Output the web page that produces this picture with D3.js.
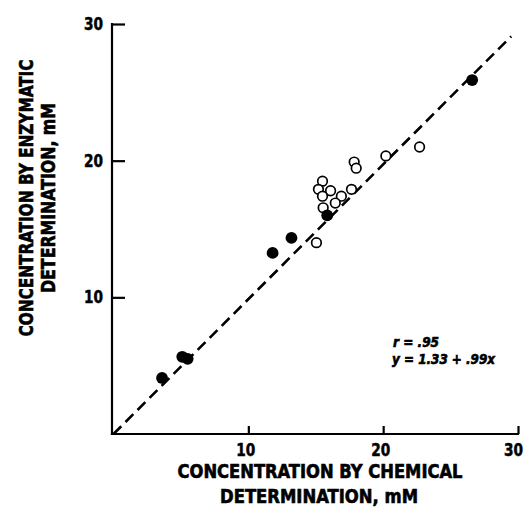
<!DOCTYPE html>
<html><head><meta charset="utf-8">
<script src="https://cdn.jsdelivr.net/npm/d3@7"></script>
<style>
html,body{margin:0;padding:0;background:#fff;}
svg{display:block;}
text{font-family:"Liberation Sans Narrow","DejaVu Sans Condensed","Roboto Condensed",sans-serif;font-weight:bold;fill:#000;}
</style></head>
<body>
<script>
// Data (chemical x, enzymatic y), mM
const filledX = [3.6, 5.1, 5.5, 11.8, 13.2, 15.85, 26.6];
const filledY = [4.1, 5.65, 5.5, 13.25, 14.35, 16.0, 25.9];
const openX = [15.5, 15.2, 16.1, 15.5, 16.9, 17.65, 16.45, 15.55, 15.05, 17.85, 18.0, 20.2, 22.7];
const openY = [18.5, 17.9, 17.8, 17.4, 17.4, 17.9, 16.9, 16.55, 14.0, 19.9, 19.45, 20.35, 21.0];
const xTicks = [10, 20, 30];
const yTicks = [10, 20, 30];
const fitLineX = [0, 29.5];
const fitLineY = [0, 29.1];
const xTitle = ["CONCENTRATION BY CHEMICAL", "DETERMINATION, mM"];
const yTitle = ["CONCENTRATION BY ENZYMATIC", "DETERMINATION, mM"];
const stats = ["r = .95", "y = 1.33 + .99x"];

const W = 525, H = 515;
const svg = d3.select("body").append("svg").attr("width", W).attr("height", H);

const x = d3.scaleLinear().domain([0, 30]).range([113.5, 518]);
const y = d3.scaleLinear().domain([0, 30]).range([434, 24]);

// axes
const xAxis = d3.axisBottom(x).tickValues(xTicks).tickSizeInner(-8).tickSizeOuter(0).tickPadding(10);
const yAxis = d3.axisLeft(y).tickValues(yTicks).tickSizeInner(-13).tickSizeOuter(0).tickPadding(9);

const gx = svg.append("g").attr("transform", `translate(0,${y(0)})`).call(xAxis);
const gy = svg.append("g").attr("transform", `translate(${x(0) - 1.5},0)`).call(yAxis);
[gx, gy].forEach(g => {
  g.select(".domain").attr("stroke", "#000").attr("stroke-width", 2.2);
  g.selectAll(".tick line").attr("stroke", "#000").attr("stroke-width", 2.2);
  g.selectAll(".tick text").attr("font-size", 17.5).attr("font-weight", "bold")
    .attr("font-family", '"Liberation Sans Narrow","DejaVu Sans Condensed",sans-serif')
    .attr("stroke", "#000").attr("stroke-width", 0.5)
    .attr("textLength", 19).attr("lengthAdjust", "spacingAndGlyphs");
});
gx.select(".domain").attr("d", `M${x(0) - 2.6},0H${x(30) + 1}`);
gy.select(".domain").attr("d", `M0,${y(0) + 1}V${y(30) - 1}`);
gx.selectAll(".tick text").attr("dx", d => d === 30 ? -5 : -3);

// dashed fit line
svg.append("line")
  .attr("x1", x(fitLineX[0])).attr("y1", y(fitLineY[0]))
  .attr("x2", x(fitLineX[1])).attr("y2", y(fitLineY[1]))
  .attr("stroke", "#000").attr("stroke-width", 2.6)
  .attr("stroke-dasharray", "11,6");

// open circles
svg.append("g").selectAll("circle").data(openX.map((v, i) => [v, openY[i]]))
  .join("circle")
  .attr("cx", d => x(d[0])).attr("cy", d => y(d[1])).attr("r", 4.8)
  .attr("fill", "#fff").attr("stroke", "#000").attr("stroke-width", 1.7);

// filled circles
svg.append("g").selectAll("circle").data(filledX.map((v, i) => [v, filledY[i]]))
  .join("circle")
  .attr("cx", d => x(d[0])).attr("cy", d => y(d[1])).attr("r", 5.9)
  .attr("fill", "#000");

const heavy = sel => sel.attr("stroke", "#000").attr("stroke-width", 0.6);

// x title
svg.append("text").attr("x", 320).attr("y", 478).attr("text-anchor", "middle").call(heavy)
  .attr("font-size", 19).attr("textLength", 285).attr("lengthAdjust", "spacingAndGlyphs").text(xTitle[0]);
svg.append("text").attr("x", 319).attr("y", 503).attr("text-anchor", "middle").call(heavy)
  .attr("font-size", 19).attr("textLength", 198).attr("lengthAdjust", "spacingAndGlyphs").text(xTitle[1]);

// y title
svg.append("text").attr("transform", "translate(33,198) rotate(-90)").attr("text-anchor", "middle").call(heavy)
  .attr("font-size", 19).attr("textLength", 277).attr("lengthAdjust", "spacingAndGlyphs").text(yTitle[0]);
svg.append("text").attr("transform", "translate(55,198) rotate(-90)").attr("text-anchor", "middle").call(heavy)
  .attr("font-size", 19).attr("textLength", 190).attr("lengthAdjust", "spacingAndGlyphs").text(yTitle[1]);

// stats annotation
svg.append("text").attr("x", 393).attr("y", 347).attr("font-size", 14).attr("font-style", "italic").call(heavy)
  .attr("textLength", 46).attr("lengthAdjust", "spacingAndGlyphs").text(stats[0]);
svg.append("text").attr("x", 392).attr("y", 364).attr("font-size", 14).attr("font-style", "italic").call(heavy)
  .attr("textLength", 103).attr("lengthAdjust", "spacingAndGlyphs").text(stats[1]);
</script>
</body></html>
